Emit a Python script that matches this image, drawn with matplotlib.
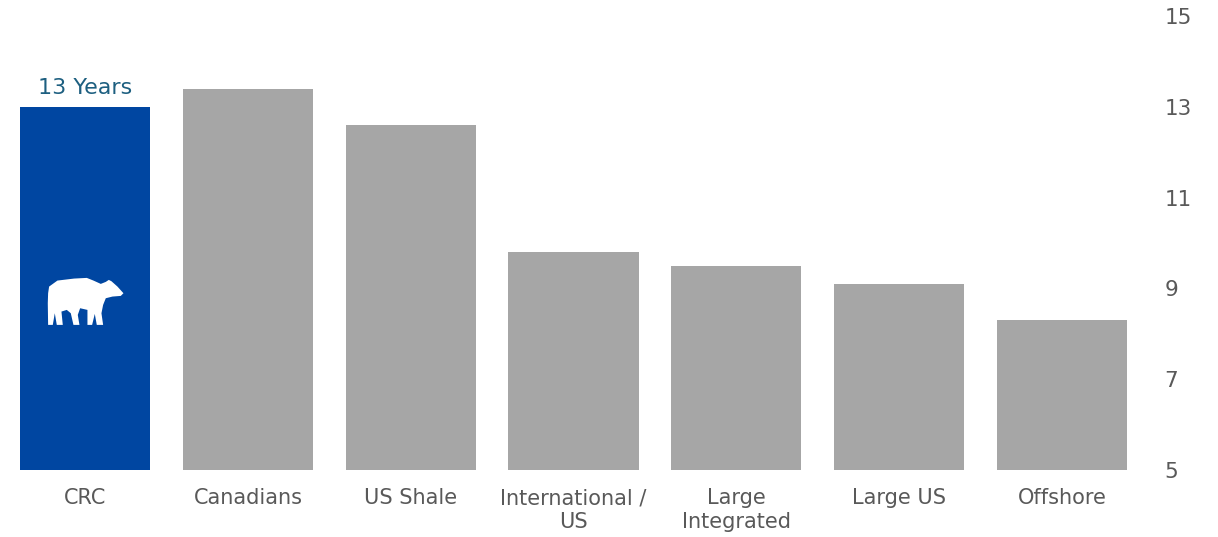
import numpy as np
import matplotlib
matplotlib.use("Agg")
import matplotlib.pyplot as plt
from matplotlib.patches import Polygon

categories = ["CRC", "Canadians", "US Shale", "International /\nUS", "Large\nIntegrated", "Large US", "Offshore"]
years = [13.0, 13.4, 12.6, 9.8, 9.5, 9.1, 8.3]
yticks = [5, 7, 9, 11, 13, 15]
highlight_label = "13 Years"

# bear silhouette outline (shape units, y down)
bear = np.array([
    (35, 80), (60, 62), (110, 56), (148, 54), (168, 62), (190, 72), (205, 66), (214, 60),
    (222, 64), (240, 80), (258, 100), (250, 108), (225, 110), (205, 115), (197, 135),
    (192, 160), (197, 195), (178, 195), (172, 162), (164, 195), (150, 195), (150, 150),
    (128, 145), (121, 165), (126, 195), (108, 195), (100, 160), (88, 150), (72, 155),
    (76, 195), (58, 195), (52, 160), (46, 195), (32, 195), (31, 130), (32, 100),
], dtype=float)

plt.rcParams["font.family"] = ["DejaVu Sans"]
fig = plt.figure(figsize=(12.18, 5.37), dpi=100)
ax = fig.add_axes([20 / 1218, 67 / 537, 1107 / 1218, (470 - 16) / 537])

x = np.arange(len(categories))
colors = ["#0046a1"] + ["#a6a6a6"] * (len(categories) - 1)
ax.bar(x, [v - 5 for v in years], bottom=5, width=0.8, color=colors)

ax.set_xlim(-0.4, len(categories) - 0.6)
ax.set_ylim(5, 15)
ax.set_xticks(x, categories, fontsize=15, color="#595959", linespacing=1.25)
ax.set_yticks(yticks, [str(t) for t in yticks], fontsize=15.5, color="#595959")
ax.yaxis.tick_right()
ax.tick_params(axis="y", length=0, pad=27)
ax.tick_params(axis="x", length=0, pad=13)
for ticklabel in ax.get_yticklabels():
    ticklabel.set_horizontalalignment("left")
for s in ax.spines.values():
    s.set_visible(False)

ax.text(x[0], years[0] + 0.2, highlight_label, ha="center", va="bottom",
        fontsize=16, color="#1d5f80")

# bear icon centred on first bar
px_per_x = 1107 / 6.8
px_per_y = 454 / 10
cx, cy = 143, 125
bx = x[0] + (bear[:, 0] - cx) / 3 / px_per_x
by = 8.71 - (bear[:, 1] - cy) / 3 / px_per_y
ax.add_patch(Polygon(np.column_stack([bx, by]), closed=True, color="white", lw=0))

fig.savefig("out.png", dpi=100)
